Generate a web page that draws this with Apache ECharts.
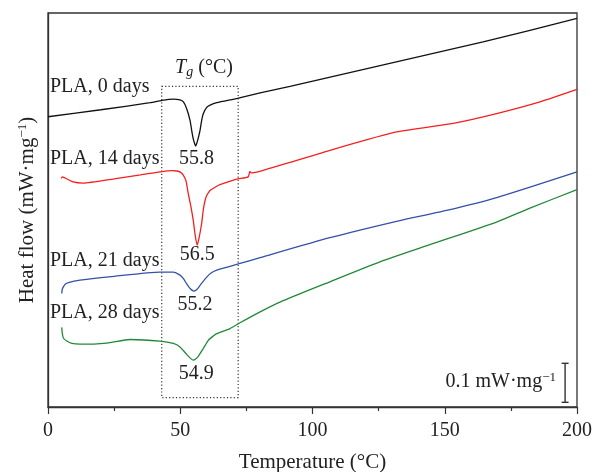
<!DOCTYPE html>
<html><head><meta charset="utf-8">
<script src="https://cdn.jsdelivr.net/npm/echarts@6/dist/echarts.min.js"></script>
<style>html,body{margin:0;padding:0;background:#fff}#c{width:593px;height:472px}</style>
</head><body><div id="c"></div>
<script>
const xTicks = [0, 50, 100, 150, 200];
const seriesNames = ['PLA, 0 days', 'PLA, 14 days', 'PLA, 21 days', 'PLA, 28 days'];
const tgValues = ['55.8', '56.5', '55.2', '54.9'];

const temp0 = [0, 20, 38.6, 43.1, 47.5, 49.9, 51.2, 52.4, 53.7, 54.3, 54.9, 55.4, 55.8, 56.2, 56.6, 57.5, 58.1, 58.7, 60.0, 61.3, 63.8, 71.6, 80.2, 91.5, 164.5, 200];
const flow0 = [0.744, 0.762, 0.780, 0.786, 0.789, 0.787, 0.782, 0.765, 0.735, 0.710, 0.688, 0.676, 0.669, 0.675, 0.684, 0.710, 0.735, 0.752, 0.768, 0.774, 0.780, 0.791, 0.805, 0.822, 0.936, 0.996];

const temp14 = [5.0, 5.4, 6.5, 9.5, 13.3, 25, 35, 42.3, 47, 48.7, 50, 51.2, 52.2, 53, 54, 54.9, 55.7, 56.4, 57.1, 58.1, 58.7, 59.4, 60.0, 60.6, 61.5, 63.8, 65, 71.3, 75.7, 76.3, 76.9, 78.9, 91.5, 106.6, 131.8, 153.2, 169.6, 186, 200];
const flow14 = [0.586, 0.590, 0.587, 0.577, 0.574, 0.585, 0.595, 0.603, 0.606, 0.605, 0.602, 0.594, 0.579, 0.548, 0.515, 0.479, 0.438, 0.415, 0.433, 0.471, 0.505, 0.530, 0.542, 0.549, 0.556, 0.566, 0.570, 0.584, 0.590, 0.604, 0.600, 0.602, 0.627, 0.658, 0.705, 0.727, 0.752, 0.782, 0.814];

const temp21 = [5.2, 5.4, 5.8, 6.6, 7.7, 12.1, 25, 42.3, 47.4, 49.9, 51.2, 52.4, 53.8, 55.2, 56.4, 57.5, 60, 61.8, 63.8, 72.6, 80.2, 106.6, 131.8, 150.7, 169.6, 200];
const flow21 = [0.291, 0.302, 0.308, 0.315, 0.319, 0.325, 0.335, 0.346, 0.346, 0.338, 0.329, 0.316, 0.303, 0.297, 0.302, 0.312, 0.333, 0.344, 0.351, 0.368, 0.383, 0.434, 0.476, 0.504, 0.537, 0.603];

const temp28 = [5.2, 5.4, 5.8, 7.1, 9, 12.1, 22.2, 31, 42.3, 47.4, 49.9, 52.4, 54.0, 54.9, 55.8, 56.8, 58.7, 60.6, 62.5, 63.8, 68.8, 72.6, 80.2, 87.7, 106.6, 125.5, 144.4, 169.6, 182.2, 200];
const flow28 = [0.204, 0.189, 0.177, 0.169, 0.163, 0.161, 0.164, 0.173, 0.169, 0.163, 0.154, 0.135, 0.124, 0.120, 0.123, 0.130, 0.150, 0.171, 0.182, 0.188, 0.201, 0.216, 0.244, 0.269, 0.321, 0.372, 0.416, 0.474, 0.510, 0.557];

const tgBoxX = [43.0, 71.9];
const tgBoxY = [0.024, 0.822];
const scaleBarX = 195.5;
const scaleBarY = [0.012, 0.112];

const FONT = "'Liberation Serif','DejaVu Serif',serif";
const TXT = '#222';
const AX = '#333';

function pairs(xs, ys) { return xs.map((x, i) => [x, ys[i]]); }
function dipPoint(xs, ys) {
  let best = -1;
  for (let i = 0; i < xs.length; i++) {
    if (xs[i] >= tgBoxX[0] && xs[i] <= tgBoxX[1] && (best < 0 || ys[i] < ys[best])) best = i;
  }
  return [xs[best], ys[best]];
}

const curves = [
  { x: temp0, y: flow0, color: '#111111', dist: 3, dx: 1, ly: 86.7 },
  { x: temp14, y: flow14, color: '#f51f1f', dist: 0, dx: 0, ly: 159 },
  { x: temp21, y: flow21, color: '#3450a8', dist: 4, dx: 1, ly: 261 },
  { x: temp28, y: flow28, color: '#21883a', dist: 4, dx: 3, ly: 313 }
];

const lineSeries = curves.map((c, k) => ({
  type: 'line',
  name: seriesNames[k],
  data: pairs(c.x, c.y),
  showSymbol: false,
  smooth: 0.2,
  lineStyle: { color: c.color, width: 1.3 },
  itemStyle: { color: c.color },
  z: 3,
  markPoint: {
    silent: true,
    symbol: 'circle',
    symbolSize: 0,
    data: [{ coord: dipPoint(c.x, c.y), value: tgValues[k] }],
    label: {
      show: true, position: 'bottom', distance: c.dist, offset: [c.dx, 0],
      formatter: tgValues[k], fontFamily: FONT, fontSize: 20, color: TXT
    }
  }
}));

const boxSeries = {
  type: 'custom', silent: true, z: 1,
  data: [[tgBoxX[0], tgBoxY[0], tgBoxX[1], tgBoxY[1]]],
  renderItem: (p, api) => {
    const a = api.coord([api.value(0), api.value(1)]);
    const b = api.coord([api.value(2), api.value(3)]);
    return {
      type: 'rect',
      shape: { x: a[0], y: b[1], width: b[0] - a[0], height: a[1] - b[1] },
      style: { fill: null, stroke: '#333', lineWidth: 1.2, lineDash: [1.2, 2.2] }
    };
  }
};

const barSeries = {
  type: 'custom', silent: true, z: 2,
  data: [[scaleBarX, scaleBarY[0], scaleBarY[1]]],
  renderItem: (p, api) => {
    const a = api.coord([api.value(0), api.value(1)]);
    const b = api.coord([api.value(0), api.value(2)]);
    const w = 3.5;
    const st = { stroke: '#333', lineWidth: 1.4 };
    return {
      type: 'group', children: [
        { type: 'line', shape: { x1: a[0], y1: a[1], x2: b[0], y2: b[1] }, style: st },
        { type: 'line', shape: { x1: a[0] - w, y1: a[1], x2: a[0] + w, y2: a[1] }, style: st },
        { type: 'line', shape: { x1: b[0] - w, y1: b[1], x2: b[0] + w, y2: b[1] }, style: st }
      ]
    };
  }
};

const supStyle = { fontFamily: FONT, fontSize: 13, padding: [0, 0, 9, 0], color: TXT };

const graphics = curves.map((c, k) => ({
  type: 'text', x: 50, y: c.ly, z: 10,
  style: { text: seriesNames[k], fontFamily: FONT, fontSize: 20, fill: TXT, align: 'left', verticalAlign: 'middle' }
}));
graphics.push({
  type: 'text', x: 204, y: 68, z: 10,
  style: {
    text: '{i|T}{s|g} (°C)', fontFamily: FONT, fontSize: 20, fill: TXT, align: 'center', verticalAlign: 'middle',
    rich: {
      i: { fontFamily: FONT, fontSize: 20, fontStyle: 'italic', color: TXT },
      s: { fontFamily: FONT, fontSize: 14, fontStyle: 'italic', padding: [9, 0, 0, 0], color: TXT }
    }
  }
});
graphics.push({
  type: 'text', x: 556, y: 382, z: 10,
  style: {
    text: '0.1 mW·mg{sup|−1}', fontFamily: FONT, fontSize: 20, fill: TXT, align: 'right', verticalAlign: 'middle',
    rich: { sup: supStyle }
  }
});

const chart = echarts.init(document.getElementById('c'), null, { renderer: 'canvas' });
chart.setOption({
  animation: false,
  backgroundColor: '#fff',
  grid: { left: 48, top: 13, width: 529, height: 394, outerBoundsMode: 'none', containLabel: false, show: true, borderColor: AX, borderWidth: 1.3, backgroundColor: 'transparent' },
  xAxis: {
    type: 'value', min: xTicks[0], max: xTicks[xTicks.length - 1], interval: xTicks[1] - xTicks[0],
    name: 'Temperature (°C)', nameLocation: 'middle', nameGap: 45,
    nameTextStyle: { fontFamily: FONT, fontSize: 21, color: TXT },
    axisLine: { lineStyle: { color: AX, width: 1.3 } },
    axisTick: { show: true, inside: false, length: 7, lineStyle: { color: AX, width: 1.2 } },
    minorTick: { show: true, splitNumber: 2, length: 4, lineStyle: { color: AX, width: 1.2 } },
    axisLabel: { fontFamily: FONT, fontSize: 20, color: TXT, margin: 14 },
    splitLine: { show: false }
  },
  yAxis: {
    type: 'value', min: 0, max: 1.01,
    name: 'Heat flow (mW·mg{sup|−1})', nameLocation: 'middle', nameGap: 10,
    nameTextStyle: { fontFamily: FONT, fontSize: 21, color: TXT, rich: { sup: supStyle } },
    axisLine: { show: true, lineStyle: { color: AX, width: 1.3 } },
    axisTick: { show: false },
    axisLabel: { show: false },
    splitLine: { show: false }
  },
  series: [boxSeries, ...lineSeries, barSeries],
  graphic: graphics
});
</script>
</body></html>
